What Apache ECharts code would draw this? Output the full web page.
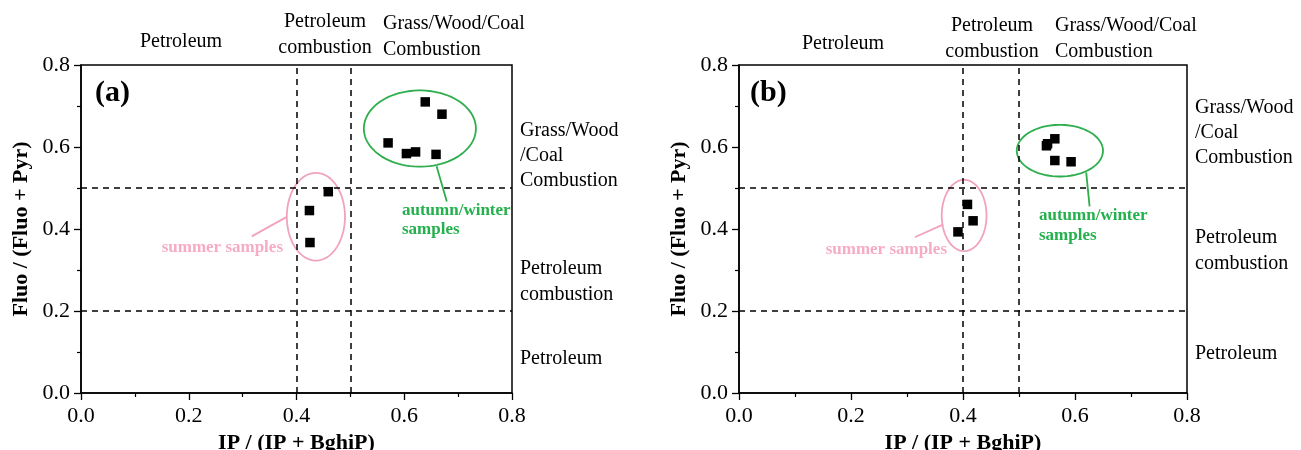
<!DOCTYPE html>
<html>
<head>
<meta charset="utf-8">
<script src="https://cdn.jsdelivr.net/npm/echarts@6/dist/echarts.min.js"></script>
<style>
html,body{margin:0;padding:0;background:#fff;}
#main{width:1301px;height:450px;}
</style>
</head>
<body>
<div id="main"></div>
<script>
// ---- data ----
const axisTicks = [0, 0.2, 0.4, 0.6, 0.8];
const aX = [0.639, 0.670, 0.570, 0.604, 0.621, 0.659, 0.459, 0.424, 0.425];
const aY = [0.710, 0.680, 0.610, 0.584, 0.588, 0.582, 0.491, 0.445, 0.367];
const bX = [0.549, 0.551, 0.564, 0.564, 0.593, 0.408, 0.418, 0.391];
const bY = [0.603, 0.608, 0.620, 0.567, 0.564, 0.460, 0.420, 0.393];
const thresholdX = [0.4, 0.5];
const thresholdY = [0.2, 0.5];
// ellipses: [cx, cy, rx, ry]
const aGreenEllipse = [0.629, 0.645, 0.104, 0.093];
const aPinkEllipse = [0.436, 0.430, 0.054, 0.107];
const bGreenEllipse = [0.573, 0.591, 0.077, 0.063];
const bPinkEllipse = [0.402, 0.433, 0.040, 0.087];
// pointer lines
const aGreenPointer = [[0.660, 0.553], [0.679, 0.467]];
const aPinkPointer = [[0.317, 0.382], [0.381, 0.429]];
const bGreenPointer = [[0.620, 0.538], [0.626, 0.455]];
const bPinkPointer = [[0.314, 0.380], [0.363, 0.410]];

const GREEN = '#2fae4e';
const GREEN_TXT = '#24b04c';
const PINK = '#f2a3bc';
const PINK_TXT = '#f6abc6';
const FONT = '"Liberation Serif","Times New Roman",serif';

const chart = echarts.init(document.getElementById('main'), null, {renderer: 'canvas'});

function xAxisCfg(idx) {
  return {
    gridIndex: idx, type: 'value', min: 0, max: 0.8, interval: 0.2,
    name: 'IP / (IP + BghiP)', nameLocation: 'middle', nameGap: 37,
    nameTextStyle: {fontFamily: FONT, fontWeight: 'bold', fontSize: 22, color: '#000'},
    axisLine: {show: true, onZero: false, lineStyle: {color: '#000', width: 1.5}},
    axisTick: {show: true, inside: false, length: 7, lineStyle: {color: '#000', width: 1.3}},
    minorTick: {show: true, splitNumber: 2, length: 4, lineStyle: {color: '#000', width: 1.2}},
    axisLabel: {margin: 12, fontFamily: FONT, fontSize: 22, color: '#000', formatter: v => v.toFixed(1)},
    splitLine: {show: false}
  };
}
function yAxisCfg(idx) {
  return {
    gridIndex: idx, type: 'value', min: 0, max: 0.8, interval: 0.2,
    name: 'Fluo / (Fluo + Pyr)', nameLocation: 'middle', nameGap: 49,
    nameTextStyle: {fontFamily: FONT, fontWeight: 'bold', fontSize: 22, color: '#000'},
    axisLine: {show: true, onZero: false, lineStyle: {color: '#000', width: 1.5}},
    axisTick: {show: true, inside: false, length: 7, lineStyle: {color: '#000', width: 1.3}},
    minorTick: {show: true, splitNumber: 2, length: 4, lineStyle: {color: '#000', width: 1.2}},
    axisLabel: {margin: 11, fontFamily: FONT, fontSize: 22, color: '#000', formatter: v => v.toFixed(1)},
    splitLine: {show: false}
  };
}

function ellipseRender(color) {
  return function (params, api) {
    const cx = api.value(0), cy = api.value(1), rx = api.value(2), ry = api.value(3);
    const pts = [];
    for (let k = 0; k <= 90; k++) {
      const t = k / 90 * Math.PI * 2;
      pts.push(api.coord([cx + rx * Math.cos(t), cy + ry * Math.sin(t)]));
    }
    return {type: 'polyline', shape: {points: pts}, style: {fill: 'none', stroke: color, lineWidth: 1.8}};
  };
}

function panelSeries(idx, xs, ys, greenE, pinkE, greenP, pinkP) {
  const pts = xs.map((x, i) => [x, ys[i]]);
  return [
    {
      type: 'scatter', xAxisIndex: idx, yAxisIndex: idx, data: pts,
      symbol: 'rect', symbolSize: 9.5, itemStyle: {color: '#000', opacity: 1}, z: 5, silent: true,
      markLine: {
        silent: true, symbol: ['none', 'none'], label: {show: false}, animation: false,
        lineStyle: {color: '#000', width: 1.5, type: [6, 5]},
        data: thresholdX.map(v => ({xAxis: v})).concat(thresholdY.map(v => ({yAxis: v})))
      }
    },
    {type: 'custom', xAxisIndex: idx, yAxisIndex: idx, data: [greenE], renderItem: ellipseRender(GREEN), clip: false, silent: true, z: 3},
    {type: 'custom', xAxisIndex: idx, yAxisIndex: idx, data: [pinkE], renderItem: ellipseRender(PINK), clip: false, silent: true, z: 3},
    {type: 'line', xAxisIndex: idx, yAxisIndex: idx, data: greenP, symbol: 'none', lineStyle: {color: GREEN, width: 1.8}, silent: true, z: 3},
    {type: 'line', xAxisIndex: idx, yAxisIndex: idx, data: pinkP, symbol: 'none', lineStyle: {color: PINK, width: 1.8}, silent: true, z: 3}
  ];
}

function txt(text, x, y, o) {
  o = o || {};
  return {
    type: 'text', x: x, y: y, silent: true, z: 10,
    style: {
      text: text, fill: o.color || '#000',
      font: (o.bold ? 'bold ' : '') + (o.size || 20) + 'px ' + FONT,
      align: o.align || 'left', verticalAlign: 'middle', lineHeight: o.lh || 26
    }
  };
}

const graphics = [
  // panel (a)
  txt('(a)', 95, 93, {bold: true, size: 30}),
  txt('Petroleum', 181, 42, {align: 'center'}),
  txt('Petroleum\ncombustion', 325, 35, {align: 'center'}),
  txt('Grass/Wood/Coal\nCombustion', 383, 37),
  txt('Grass/Wood\n/Coal\nCombustion', 520, 156, {lh: 25}),
  txt('Petroleum\ncombustion', 520, 282),
  txt('Petroleum', 520, 359),
  txt('autumn/winter\nsamples', 402, 220, {bold: true, size: 17, color: GREEN_TXT, lh: 19}),
  txt('summer samples', 283, 248, {bold: true, size: 17, color: PINK_TXT, align: 'right'}),
  // panel (b)
  txt('(b)', 750, 93, {bold: true, size: 30}),
  txt('Petroleum', 843, 44, {align: 'center'}),
  txt('Petroleum\ncombustion', 992, 39, {align: 'center'}),
  txt('Grass/Wood/Coal\nCombustion', 1055, 39),
  txt('Grass/Wood\n/Coal\nCombustion', 1195, 133, {lh: 25}),
  txt('Petroleum\ncombustion', 1195, 251),
  txt('Petroleum', 1195, 354),
  txt('autumn/winter\nsamples', 1039, 226, {bold: true, size: 17, color: GREEN_TXT, lh: 20}),
  txt('summer samples', 947, 250, {bold: true, size: 17, color: PINK_TXT, align: 'right'})
];

chart.setOption({
  animation: false,
  backgroundColor: '#fff',
  grid: [
    {left: 81, top: 65, width: 431, height: 328, containLabel: false, outerBoundsMode: 'none', show: true, borderColor: '#000', borderWidth: 1.5, backgroundColor: 'transparent'},
    {left: 739, top: 65, width: 448, height: 328, containLabel: false, outerBoundsMode: 'none', show: true, borderColor: '#000', borderWidth: 1.5, backgroundColor: 'transparent'}
  ],
  xAxis: [xAxisCfg(0), xAxisCfg(1)],
  yAxis: [yAxisCfg(0), yAxisCfg(1)],
  series: panelSeries(0, aX, aY, aGreenEllipse, aPinkEllipse, aGreenPointer, aPinkPointer)
    .concat(panelSeries(1, bX, bY, bGreenEllipse, bPinkEllipse, bGreenPointer, bPinkPointer)),
  graphic: graphics
});
</script>
</body>
</html>
